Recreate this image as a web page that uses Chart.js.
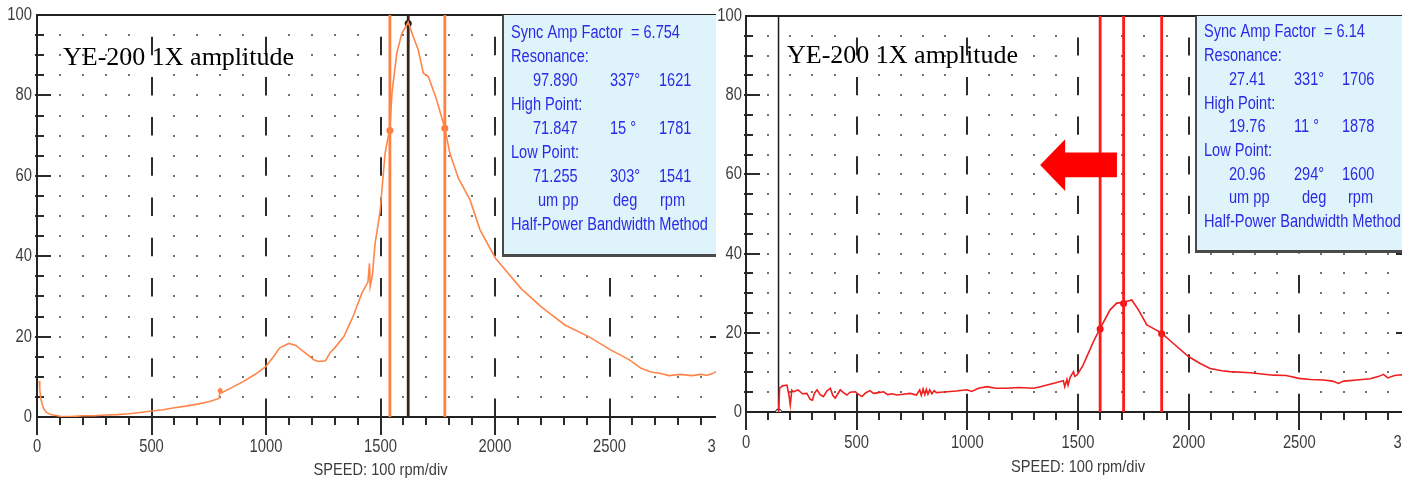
<!DOCTYPE html>
<html>
<head>
<meta charset="utf-8">
<script src="https://cdn.jsdelivr.net/npm/chart.js@4.4.1/dist/chart.umd.min.js"></script>
<style>
  html, body { margin: 0; padding: 0; background: #fff; }
  #page { position: relative; width: 1416px; height: 487px; overflow: hidden; }
  .panel { position: absolute; top: 0; height: 487px; overflow: hidden; }
  .panel canvas { position: absolute; left: 0; top: 0; }
</style>
</head>
<body>
<div id="page">
  <div class="panel" style="left:0;width:716px"><canvas id="leftChart" width="760" height="487"></canvas></div>
  <div class="panel" style="left:716px;width:686px"><canvas id="rightChart" width="720" height="487"></canvas></div>
</div>
<script>
// left run-up (orange)
const leftRpm = [10, 12, 18, 28, 40, 60, 100, 150, 200, 250, 300, 350, 400, 450, 500, 550, 600, 650, 700, 750, 795, 800, 805, 850, 900, 950, 1000, 1030, 1060, 1100, 1130, 1170, 1210, 1230, 1260, 1280, 1300, 1340, 1380, 1420, 1445, 1452, 1455, 1465, 1476, 1498, 1520, 1541, 1550, 1571, 1593, 1621, 1643, 1665, 1687, 1709, 1745, 1781, 1803, 1840, 1891, 1935, 2002, 2039, 2113, 2202, 2305, 2409, 2505, 2587, 2638, 2680, 2719, 2760, 2809, 2860, 2900, 2927, 2950, 2975];
const leftAmp = [9.0, 6.8, 4.2, 2.2, 1.2, 0.6, 0.2, 0.1, 0.3, 0.3, 0.5, 0.6, 0.8, 1.1, 1.5, 1.8, 2.3, 2.7, 3.2, 3.8, 4.6, 6.8, 6.0, 7.3, 8.8, 10.5, 12.6, 14.8, 17.2, 18.3, 17.8, 16.0, 14.2, 13.8, 14.0, 16.0, 17.2, 20.0, 25.0, 31.0, 33.5, 38.2, 32.5, 35.5, 43.0, 51.0, 65.6, 72.0, 80.5, 90.5, 95.4, 98.2, 94.6, 91.3, 85.5, 84.7, 78.9, 71.8, 65.6, 59.4, 54.0, 46.5, 39.5, 37.0, 32.0, 27.4, 22.9, 20.0, 16.7, 14.2, 12.1, 11.2, 10.9, 10.3, 10.6, 10.3, 10.6, 10.4, 10.8, 11.6];
const leftCursorRpm = [1541, 1621, 1781];
const leftCursorAmp = [71.255, 97.89, 71.847];
const leftMarkRpm = [800];
const leftMarkAmp = [6.5];

// right run-up (red)
const rightRpm = [147, 152, 165, 185, 195, 200, 207, 215, 235, 255, 275, 290, 300, 310, 321, 335, 350, 365, 381, 392, 403, 415, 426, 440, 456, 470, 494, 510, 524, 540, 560, 576, 600, 622, 640, 660, 682, 710, 742, 770, 785, 792, 800, 808, 815, 822, 830, 840, 850, 860, 880, 908, 950, 998, 1020, 1050, 1089, 1130, 1179, 1230, 1299, 1330, 1360, 1400, 1420, 1434, 1440, 1450, 1455, 1465, 1480, 1485, 1495, 1520, 1540, 1570, 1600, 1645, 1675, 1706, 1743, 1773, 1811, 1850, 1878, 1931, 1999, 2050, 2097, 2150, 2187, 2278, 2383, 2440, 2498, 2550, 2609, 2650, 2677, 2700, 2760, 2820, 2860, 2880, 2900, 2930, 2963, 3000];
const rightAmp = [0, 6.0, 6.6, 6.8, 4.0, 1.8, 5.5, 5.1, 5.6, 4.6, 4.7, 3.2, 3.0, 4.8, 5.6, 4.4, 3.9, 5.3, 6.0, 4.2, 3.5, 4.6, 5.6, 4.9, 4.3, 5.0, 5.1, 4.4, 3.9, 4.8, 5.4, 4.7, 4.9, 5.1, 4.4, 4.6, 4.3, 4.5, 4.7, 4.3, 5.6, 4.2, 5.8, 4.4, 5.7, 4.5, 5.6, 4.6, 5.4, 4.9, 5.0, 5.1, 5.3, 5.6, 5.2, 6.0, 6.4, 6.0, 6.0, 6.2, 6.0, 6.4, 6.8, 7.4, 7.7, 7.9, 6.4, 8.2, 6.8, 8.8, 10.2, 9.0, 9.3, 11.5, 14.0, 17.8, 21.1, 25.8, 27.5, 27.7, 28.3, 25.8, 22.0, 20.8, 19.9, 17.3, 14.0, 12.3, 11.0, 10.4, 10.2, 9.9, 9.3, 9.2, 8.5, 8.2, 8.1, 7.8, 7.2, 7.8, 8.1, 8.4, 9.0, 9.5, 8.6, 9.2, 9.4, 9.3];
const rightCursorRpm = [1600, 1706, 1878];
const rightCursorAmp = [20.96, 27.41, 19.76];
const rightStartRpm = [147];
const rightStartAmp = [0];

// info box texts
const rowLabels = ['Resonance:', 'High Point:', 'Low Point:'];
const unitLabels = ['um pp', 'deg', 'rpm'];
const leftFactor = '6.754';
const leftRows = [['97.890', '337°', '1621'], ['71.847', '15 °', '1781'], ['71.255', '303°', '1541']];
const rightFactor = '6.14';
const rightRows = [['27.41', '331°', '1706'], ['19.76', '11 °', '1878'], ['20.96', '294°', '1600']];
const xTitle = 'SPEED: 100 rpm/div';
const caption = 'YE-200 1X amplitude';

const SANS = "'Liberation Sans', Arial, sans-serif";
const AXIS_TEXT = '#3c3c3c';

function pts(xs, ys) { return xs.map((x, i) => ({ x: x, y: ys[i] })); }
function vline(r) { return [{ x: r, y: 0 }, { x: r, y: 100 }]; }

// no narrow face installed, so squeeze the sans face horizontally
function narrow(ctx, text, x, y, align, sx) {
  ctx.save();
  ctx.translate(x, y);
  ctx.scale(sx, 1);
  ctx.textAlign = align;
  ctx.fillText(text, 0, 0);
  ctx.restore();
}

// dotted grid, dashed 500 rpm lines, ticks and frame
const framePlugin = {
  id: 'frame',
  beforeDatasetsDraw(chart) {
    const { ctx, chartArea: a, scales: { x, y } } = chart;
    ctx.save();
    ctx.fillStyle = '#707070';
    for (let r = 100; r < 3000; r += 100) {
      if (r % 500 === 0) continue;
      const px = Math.round(x.getPixelForValue(r));
      for (let v = 5; v < 100; v += 5) {
        const py = Math.round(y.getPixelForValue(v));
        ctx.fillRect(px - 1, py - 1, 2, 2);
      }
    }
    const ten = y.getPixelForValue(0) - y.getPixelForValue(10);
    ctx.strokeStyle = '#2c2c2c';
    ctx.lineWidth = 2;
    ctx.setLineDash([ten * 0.46, ten * 0.54]);
    for (let r = 500; r < 3000; r += 500) {
      const px = Math.round(x.getPixelForValue(r));
      ctx.beginPath(); ctx.moveTo(px, a.bottom); ctx.lineTo(px, a.top); ctx.stroke();
    }
    ctx.setLineDash([]);
    // y ticks, pointing inward from both sides
    const x0 = x.getPixelForValue(0), x1 = x.getPixelForValue(3000);
    for (let v = 5; v < 100; v += 5) {
      const py = Math.round(y.getPixelForValue(v));
      const len = v % 20 === 0 ? 14 : 7;
      ctx.beginPath();
      ctx.moveTo(x0 - 2, py); ctx.lineTo(x0 + len, py);
      ctx.moveTo(x1 + 2, py); ctx.lineTo(x1 - len, py);
      ctx.stroke();
    }
    // x ticks, pointing down
    for (let r = 0; r <= 3000; r += 100) {
      const px = Math.round(x.getPixelForValue(r));
      const len = r % 500 === 0 ? 18 : 8;
      ctx.beginPath(); ctx.moveTo(px, a.bottom); ctx.lineTo(px, a.bottom + len); ctx.stroke();
    }
    // frame
    ctx.strokeStyle = '#222';
    ctx.beginPath();
    ctx.moveTo(x0, a.bottom); ctx.lineTo(x0, a.top);
    ctx.moveTo(x0 - 1, a.top); ctx.lineTo(a.right + 40, a.top);
    ctx.moveTo(x0 - 1, a.bottom); ctx.lineTo(a.right + 40, a.bottom);
    ctx.stroke();
    ctx.restore();
  },
  afterDatasetsDraw(chart, args, o) {
    const { ctx, chartArea: a, scales: { x, y } } = chart;
    ctx.save();
    // tick labels and axis title from the scales
    ctx.fillStyle = AXIS_TEXT;
    ctx.font = '18px ' + SANS;
    ctx.textBaseline = 'middle';
    x.ticks.forEach(t => narrow(ctx, String(t.value), x.getPixelForValue(t.value), a.bottom + o.xLabelDy, 'center', 0.82));
    y.ticks.forEach(t => narrow(ctx, String(t.value), a.left - o.yLabelDx, y.getPixelForValue(t.value), 'right', 0.82));
    ctx.font = '17px ' + SANS;
    narrow(ctx, xTitle, (x.getPixelForValue(0) + x.getPixelForValue(3000)) / 2, o.titleY, 'center', 0.86);
    // info box
    const bx = Math.round(x.getPixelForValue(o.boxRpm));
    const by = Math.round(y.getPixelForValue(o.boxAmp));
    ctx.fillStyle = '#dff3fb';
    ctx.fillRect(bx, a.top, a.right + 40 - bx, by - a.top);
    ctx.fillStyle = '#4a4a4a';
    ctx.fillRect(bx - 1, a.top, 2, by - a.top + 2);
    ctx.fillRect(bx - 1, by, a.right + 40 - bx, 3);
    ctx.fillStyle = '#2b2be6';
    ctx.font = '18px ' + SANS;
    const line = (i) => a.top + o.firstLine + i * o.lineGap;
    const sx = 0.81;
    narrow(ctx, 'Sync Amp Factor  = ' + o.factor, bx + 8, line(0), 'left', sx);
    for (let k = 0; k < 3; k++) {
      narrow(ctx, rowLabels[k], bx + 8, line(1 + 2 * k), 'left', sx);
      o.rows[k].forEach((t, j) => narrow(ctx, t, bx + o.cols[j], line(2 + 2 * k), 'left', sx));
    }
    unitLabels.forEach((t, j) => narrow(ctx, t, bx + o.unitCols[j], line(7), 'left', sx));
    narrow(ctx, 'Half-Power Bandwidth Method', bx + 8, line(8), 'left', sx);
    // caption
    ctx.fillStyle = '#000';
    ctx.font = '26px "Liberation Serif", "Times New Roman", serif';
    ctx.textBaseline = 'alphabetic';
    ctx.textAlign = 'left';
    ctx.fillText(caption, a.left + o.captionDx, o.captionY);
    // arrow annotation
    if (o.arrow) {
      ctx.fillStyle = '#ff0000';
      ctx.beginPath();
      o.arrow.forEach((p, i) => {
        const px = x.getPixelForValue(p[0]), py = y.getPixelForValue(p[1]);
        if (i === 0) ctx.moveTo(px, py); else ctx.lineTo(px, py);
      });
      ctx.closePath();
      ctx.fill();
    }
    ctx.restore();
  }
};

function makePanel(id, p) {
  const datasets = [
    { data: pts(p.rpm, p.amp), borderColor: p.curveColor, borderWidth: 1.6, pointRadius: 0, tension: 0 }
  ];
  p.cursorRpm.forEach((r, i) => {
    datasets.push({ data: vline(r), borderColor: p.lineColors[i], borderWidth: p.lineWidth, pointRadius: 0 });
  });
  if (p.startRpm) {
    datasets.push({ data: vline(p.startRpm[0]), borderColor: '#1a1a1a', borderWidth: 1.5, pointRadius: 0 });
    datasets.push({ type: 'scatter', data: pts(p.startRpm, p.startAmp), pointRadius: 3, borderColor: '#1a1a1a', borderWidth: 1, backgroundColor: '#fff' });
  }
  datasets.push({ type: 'scatter', data: pts(p.cursorRpm, p.cursorAmp), pointRadius: 3.5, borderWidth: 0, backgroundColor: p.markColors });
  if (p.markRpm) {
    datasets.push({ type: 'scatter', data: pts(p.markRpm, p.markAmp), pointRadius: 2.5, borderWidth: 0, backgroundColor: p.curveColor });
  }
  return new Chart(document.getElementById(id), {
    type: 'line',
    data: { datasets: datasets },
    plugins: [framePlugin],
    options: {
      responsive: false,
      animation: false,
      devicePixelRatio: 1,
      layout: { padding: { top: p.top, right: p.right, left: 0, bottom: 0 } },
      plugins: { legend: { display: false }, tooltip: { enabled: false }, frame: p.frame },
      scales: {
        x: {
          type: 'linear', min: 0, max: 3000,
          afterFit: (s) => { s.height = p.xHeight; },
          grid: { display: false, drawTicks: false }, border: { display: false },
          ticks: { stepSize: 500, autoSkip: false, maxRotation: 0, display: false }
        },
        y: {
          min: 0, max: 100,
          afterFit: (s) => { s.width = p.yWidth; },
          grid: { display: false, drawTicks: false }, border: { display: false },
          ticks: { stepSize: 20, display: false }
        }
      }
    }
  });
}

makePanel('leftChart', {
  rpm: leftRpm, amp: leftAmp, curveColor: 'rgb(255,134,74)',
  cursorRpm: leftCursorRpm, cursorAmp: leftCursorAmp,
  lineColors: ['rgb(255,128,64)', '#3b2216', 'rgb(255,128,64)'], lineWidth: 2.8,
  markColors: ['rgb(255,120,60)', '#1a1a1a', 'rgb(255,120,60)'],
  markRpm: leftMarkRpm, markAmp: leftMarkAmp,
  top: 15, right: 36, xHeight: 70, yWidth: 37,
  frame: { boxRpm: 2035, boxAmp: 40.5, factor: leftFactor, rows: leftRows,
           cols: [30, 107, 156], unitCols: [35, 110, 157], firstLine: 18, lineGap: 24,
           captionDx: 26, captionY: 65, xLabelDy: 30, yLabelDx: 5, titleY: 470 }
});

makePanel('rightChart', {
  rpm: rightRpm, amp: rightAmp, curveColor: 'rgb(240,30,30)',
  cursorRpm: rightCursorRpm, cursorAmp: rightCursorAmp,
  lineColors: ['#ff1a1a', '#ff1a1a', '#ff1a1a'], lineWidth: 2.8,
  markColors: ['#ee1111', '#ee1111', '#ee1111'],
  startRpm: rightStartRpm, startAmp: rightStartAmp,
  top: 16, right: 26, xHeight: 75, yWidth: 30,
  frame: { boxRpm: 2035, boxAmp: 40.8, factor: rightFactor, rows: rightRows,
           cols: [33, 98, 146], unitCols: [33, 106, 152], firstLine: 16.5, lineGap: 23.7,
           captionDx: 41, captionY: 63, xLabelDy: 31, yLabelDx: 4, titleY: 467,
           arrow: [[1329, 62.4], [1442, 68.9], [1442, 65.5], [1676, 65.5], [1676, 59.3], [1442, 59.3], [1442, 55.8]] }
});
</script>
</body>
</html>
